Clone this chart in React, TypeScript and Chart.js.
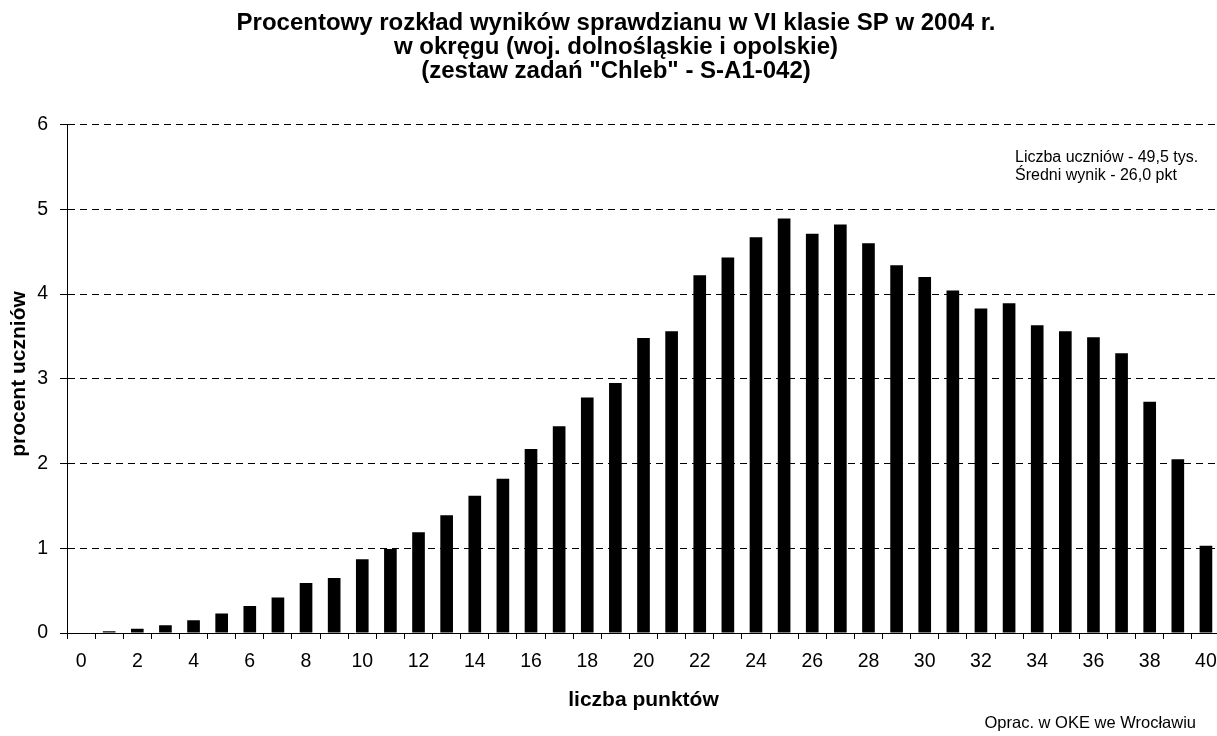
import React, { useEffect, useRef } from "react";
import { Chart, registerables } from "chart.js";

Chart.register(...registerables);

const points: string[] = Array.from({ length: 41 }, (_, i) => String(i));
const percentValues: number[] = [
  0, 0.02, 0.05, 0.09, 0.15, 0.23, 0.32, 0.42, 0.59, 0.65,
  0.87, 0.99, 1.19, 1.39, 1.62, 1.82, 2.17, 2.44, 2.78, 2.95,
  3.48, 3.56, 4.22, 4.43, 4.67, 4.89, 4.71, 4.82, 4.6, 4.34,
  4.2, 4.04, 3.83, 3.89, 3.63, 3.56, 3.49, 3.3, 2.73, 2.05, 1.03,
];
const titleLines: string[] = [
  "Procentowy rozkład wyników sprawdzianu w VI klasie SP w 2004 r.",
  "w okręgu (woj. dolnośląskie i opolskie)",
  '(zestaw zadań "Chleb" - S-A1-042)',
];
const infoLines: string[] = ["Liczba uczniów - 49,5 tys.", "Średni wynik - 26,0 pkt"];
const xTitle = "liczba punktów";
const yTitle = "procent uczniów";
const creditText = "Oprac. w OKE we Wrocławiu";

const FONT = '"Liberation Sans", Arial, sans-serif';

const textPlugin = {
  id: "textPlugin",
  afterDraw(chart: any) {
    const ctx = chart.ctx as CanvasRenderingContext2D;
    const area = chart.chartArea;
    ctx.save();
    ctx.fillStyle = "#000";
    // title
    ctx.font = `bold 24px ${FONT}`;
    ctx.textAlign = "center";
    ctx.textBaseline = "alphabetic";
    titleLines.forEach((t, i) => ctx.fillText(t, 616, 30 + i * 24));
    // info box
    ctx.font = `16px ${FONT}`;
    ctx.textAlign = "left";
    infoLines.forEach((t, i) => ctx.fillText(t, 1015, 162 + i * 18));
    // x title
    ctx.font = `bold 21px ${FONT}`;
    ctx.textAlign = "center";
    ctx.textBaseline = "middle";
    ctx.fillText(xTitle, (area.left + area.right) / 2, 700);
    // y title
    ctx.save();
    ctx.translate(19, 374);
    ctx.rotate(-Math.PI / 2);
    ctx.fillText(yTitle, 0, 0);
    ctx.restore();
    // credit
    ctx.font = `16.5px ${FONT}`;
    ctx.textAlign = "right";
    ctx.textBaseline = "alphabetic";
    ctx.fillText(creditText, 1196, 728);
    ctx.restore();
  },
};

export default function App() {
  const ref = useRef<HTMLCanvasElement | null>(null);
  useEffect(() => {
    if (!ref.current) return;
    const chart = new Chart(ref.current, {
      type: "bar",
      data: {
        labels: points,
        datasets: [
          {
            data: percentValues,
            backgroundColor: "#000",
            borderWidth: 0,
            barPercentage: 0.45,
            categoryPercentage: 1,
          },
        ],
      },
      options: {
        responsive: false,
        animation: false,
        devicePixelRatio: 1,
        layout: { padding: { top: 124.5, left: 0, right: 1, bottom: 0 } },
        plugins: {
          legend: { display: false },
          tooltip: { enabled: false },
          title: { display: false },
        },
        scales: {
          x: {
            offset: true,
            afterFit: (s: any) => {
              s.height = 103;
              s.paddingLeft = 0;
              s.paddingRight = 0;
            },
            grid: {
              offset: true,
              drawOnChartArea: false,
              drawTicks: true,
              tickLength: 6,
              color: "#000",
              tickColor: "#000",
            },
            border: { display: true, color: "#000", width: 1 },
            ticks: {
              autoSkip: false,
              maxRotation: 0,
              padding: 11,
              color: "#000",
              font: { family: FONT, size: 19.5 },
              callback: (_v: any, i: number) => (i % 2 === 0 ? points[i] : ""),
            },
          },
          y: {
            min: 0,
            max: 6,
            afterFit: (s: any) => {
              s.width = 67;
              s.paddingTop = 0;
              s.paddingBottom = 0;
            },
            grid: {
              color: "#000",
              tickColor: "#000",
              tickLength: 7,
              tickBorderDash: [],
              lineWidth: 1,
            },
            border: { display: true, color: "#000", width: 1, dash: [7, 5] },
            ticks: {
              stepSize: 1,
              padding: 12,
              color: "#000",
              font: { family: FONT, size: 19.5 },
            },
          },
        },
      },
      plugins: [textPlugin],
    });
    return () => chart.destroy();
  }, []);
  return (
    <div
      style={{
        position: "fixed",
        left: 0,
        top: 0,
        width: 1217,
        height: 736,
        overflow: "hidden",
        background: "#fff",
      }}
    >
      <canvas ref={ref} width={1221} height={736} style={{ width: 1221, height: 736, display: "block" }} />
    </div>
  );
}
